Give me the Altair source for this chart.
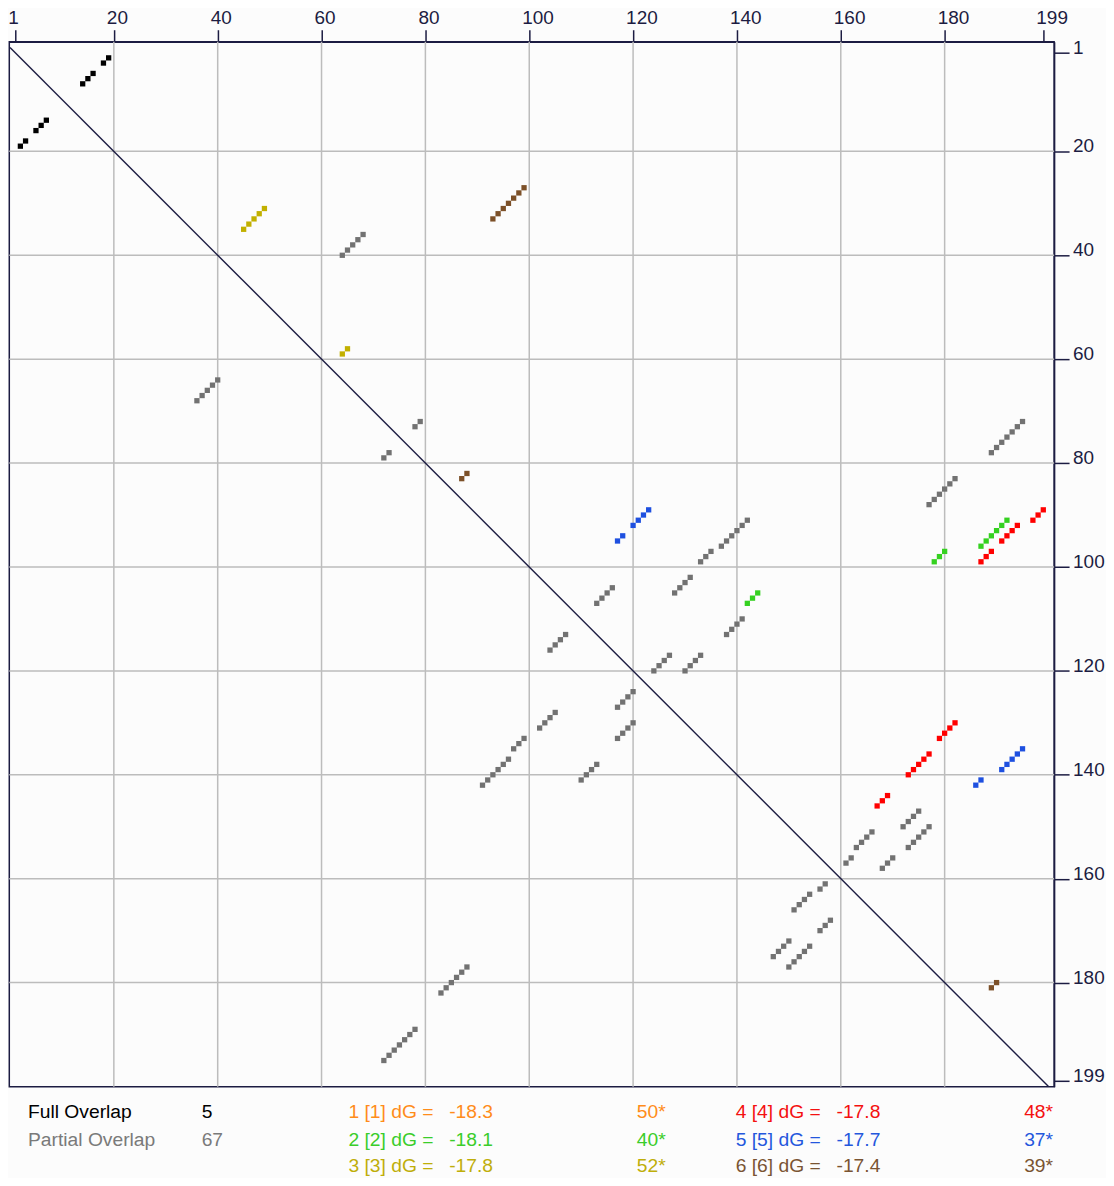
import altair as alt
import pandas as pd

# ---------------- data ----------------
tick_values = [1, 20, 40, 60, 80, 100, 120, 140, 160, 180, 199]
grid_values = [20, 40, 60, 80, 100, 120, 140, 160, 180]
diagonal = [0, 200]

# full overlap (black)
full_x = [14, 15, 16, 18, 19, 2, 3, 5, 6, 7]
full_y = [7, 6, 5, 3, 2, 19, 18, 16, 15, 14]

# partial overlap (gray)
partial_x = [64, 65, 66, 67, 68,
             36, 37, 38, 39, 40,
             78, 79,
             72, 73,
             133, 134, 135, 137, 138, 139, 140, 141, 142,
             91, 92, 93, 94, 95, 96, 97, 98, 99,
             128, 129, 130, 131,
             102, 103, 104, 105,
             113, 114, 115, 116,
             104, 105, 106, 107,
             124, 125, 126, 127,
             117, 118, 119, 120,
             130, 131, 132, 133,
             117, 118, 119, 120,
             138, 139, 140, 141,
             110, 111, 112, 113,
             83, 84, 85, 86, 87, 88,
             177, 178, 179, 180, 181, 182,
             72, 73, 74, 75, 76, 77, 78,
             189, 190, 191, 192, 193, 194, 195,
             172, 173, 174, 175,
             147, 148, 149, 150,
             173, 174, 175, 176, 177,
             150, 151, 152, 153, 154,
             161, 162, 163, 164, 165, 166,
             151, 152, 153, 154, 156, 157,
             168, 169, 170,
             156, 157, 158]
partial_y = [40, 39, 38, 37, 36,
             68, 67, 66, 65, 64,
             73, 72,
             79, 78,
             99, 98, 97, 96, 95, 94, 93, 92, 91,
             142, 141, 140, 139, 138, 137, 135, 134, 133,
             105, 104, 103, 102,
             131, 130, 129, 128,
             107, 106, 105, 104,
             116, 115, 114, 113,
             120, 119, 118, 117,
             127, 126, 125, 124,
             120, 119, 118, 117,
             133, 132, 131, 130,
             113, 112, 111, 110,
             141, 140, 139, 138,
             182, 181, 180, 179, 178, 177,
             88, 87, 86, 85, 84, 83,
             195, 194, 193, 192, 191, 190, 189,
             78, 77, 76, 75, 74, 73, 72,
             150, 149, 148, 147,
             175, 174, 173, 172,
             154, 153, 152, 151, 150,
             177, 176, 175, 174, 173,
             157, 156, 154, 153, 152, 151,
             166, 165, 164, 163, 162, 161,
             158, 157, 156,
             170, 169, 168]

# structures
s1_x, s1_y = [], []
s2_x = [142, 143, 144, 178, 179, 180, 187, 188, 189, 190, 191, 192]
s2_y = [107, 106, 105, 99, 98, 97, 96, 95, 94, 93, 92, 91]
s3_x = [45, 46, 47, 48, 49, 64, 65]
s3_y = [35, 34, 33, 32, 31, 59, 58]
s4_x = [187, 188, 189, 191, 192, 193, 194, 197, 198, 199,
        179, 180, 181, 182, 173, 174, 175, 176, 177, 167, 168, 169]
s4_y = [99, 98, 97, 95, 94, 93, 92, 91, 90, 89,
        133, 132, 131, 130, 140, 139, 138, 137, 136, 146, 145, 144]
s5_x = [117, 118, 120, 121, 122, 123, 186, 187, 191, 192, 193, 194, 195]
s5_y = [95, 94, 92, 91, 90, 89, 142, 141, 139, 138, 137, 136, 135]
s6_x = [93, 94, 95, 96, 97, 98, 99, 87, 88, 189, 190]
s6_y = [33, 32, 31, 30, 29, 28, 27, 83, 82, 181, 180]

structure_ids = [1, 2, 3, 4, 5, 6]
structure_dG = ["-18.3", "-18.1", "-17.8", "-17.8", "-17.7", "-17.4"]
structure_count = [50, 40, 52, 48, 37, 39]
full_count = 5
partial_count = 67

# ---------------- styles ----------------
NAVY = "#1c1c42"
GRID = "#bcbcbc"
FONT = "Liberation Sans"
FS = 19
LFS = 19.3
struct_colors = ["#ff8c1a", "#35d120", "#c2b000", "#ff0000", "#1e50e0", "#7c5028"]
text_colors = ["#ff8c1a", "#3acd2a", "#bfae0a", "#f41010", "#2457dd", "#7a5432"]
GRAY = "#727272"

# plot geometry (page pixels)
PLOT_LEFT, PLOT_TOP = 9.3, 40.7
W, H = 1046.7, 1047.0

xs = alt.Scale(domain=[-0.134, 201.08], nice=False, zero=False)
ys = alt.Scale(domain=[-1.11, 200.06], nice=False, zero=False, reverse=True)

x_axis = alt.Axis(orient="top", values=tick_values, grid=False, tickSize=12,
                  tickWidth=1.5, tickColor=NAVY, domainColor=NAVY, domainWidth=1.5,
                  labelFont=FONT, labelFontSize=FS, labelColor=NAVY,
                  labelAlign="left", labelOffset=-7.5, labelBaseline="alphabetic",
                  labelPadding=6, labelFlush=False, labelOverlap=False, title="")
y_axis = alt.Axis(orient="right", values=tick_values, grid=False, tickSize=15,
                  tickWidth=1.5, tickColor=NAVY, domainColor=NAVY, domainWidth=1.5,
                  labelFont=FONT, labelFontSize=FS, labelColor=NAVY,
                  labelAlign="left", labelBaseline="alphabetic", labelOffset=0.5,
                  labelPadding=3.5, labelFlush=False, labelOverlap=False, title="")

# ---------------- tables ----------------
rows = []
for xv, yv in zip(partial_x, partial_y):
    rows.append({"x": xv, "y": yv, "g": "partial"})
for xv, yv in zip(full_x, full_y):
    rows.append({"x": xv, "y": yv, "g": "full"})
for sid, sx, sy in zip(structure_ids, [s1_x, s2_x, s3_x, s4_x, s5_x, s6_x],
                       [s1_y, s2_y, s3_y, s4_y, s5_y, s6_y]):
    for xv, yv in zip(sx, sy):
        rows.append({"x": xv, "y": yv, "g": f"s{sid}"})
dots = pd.DataFrame(rows)

color_domain = ["partial", "full"] + [f"s{i}" for i in structure_ids]
color_range = [GRAY, "#000000"] + struct_colors

grid_df = pd.DataFrame({"v": grid_values})
diag_df = pd.DataFrame({"d": diagonal})

vgrid = alt.Chart(grid_df).mark_rule(color=GRID, strokeWidth=1.5).encode(
    x=alt.X("v:Q", scale=xs, axis=x_axis))
hgrid = alt.Chart(grid_df).mark_rule(color=GRID, strokeWidth=1.5).encode(
    y=alt.Y("v:Q", scale=ys, axis=y_axis))
diag = alt.Chart(diag_df).mark_line(color=NAVY, strokeWidth=1.4).encode(
    x=alt.X("d:Q", scale=xs, axis=x_axis),
    y=alt.Y("d:Q", scale=ys, axis=y_axis))
pts = alt.Chart(dots).mark_square(size=28, filled=True, opacity=1, strokeWidth=0).encode(
    x=alt.X("x:Q", scale=xs, axis=x_axis),
    y=alt.Y("y:Q", scale=ys, axis=y_axis),
    color=alt.Color("g:N", scale=alt.Scale(domain=color_domain, range=color_range), legend=None))

# legend text
texts = []


def add_text(label, page_x, page_y, color):
    df = pd.DataFrame({"t": [label]})
    texts.append(alt.Chart(df).mark_text(align="left", baseline="alphabetic", font=FONT,
                                         fontSize=LFS, color=color).encode(
        text="t:N", x=alt.value(page_x - PLOT_LEFT), y=alt.value(page_y - PLOT_TOP)))


row_base = [1119.0, 1147.0, 1173.3]
add_text("Full Overlap", 28, row_base[0], "#000000")
add_text(str(full_count), 202, row_base[0], "#000000")
add_text("Partial Overlap", 28, row_base[1], "#7a7a7a")
add_text(str(partial_count), 202, row_base[1], "#7a7a7a")
col_x = [(349, 450, 638), (737, 838, 1026)]
for k, sid in enumerate(structure_ids):
    c = col_x[k // 3]
    yb = row_base[k % 3]
    col = text_colors[k]
    add_text(f"{sid} [{sid}] dG =", c[0], yb, col)
    add_text(structure_dG[k], c[1], yb, col)
    add_text(f"{structure_count[k]}*", c[2], yb, col)

chart = alt.layer(vgrid, hgrid, diag, pts, *texts).properties(
    width=W, height=H,
    padding={"left": 1.3, "top": 32.7, "right": 52, "bottom": 90.3},
    autosize=alt.AutoSizeParams(type="none"),
    background="#fcfcfc",
).configure_view(stroke=NAVY, strokeWidth=1.5)

chart.save("out.html", embed_options={"renderer": "svg", "actions": False})
